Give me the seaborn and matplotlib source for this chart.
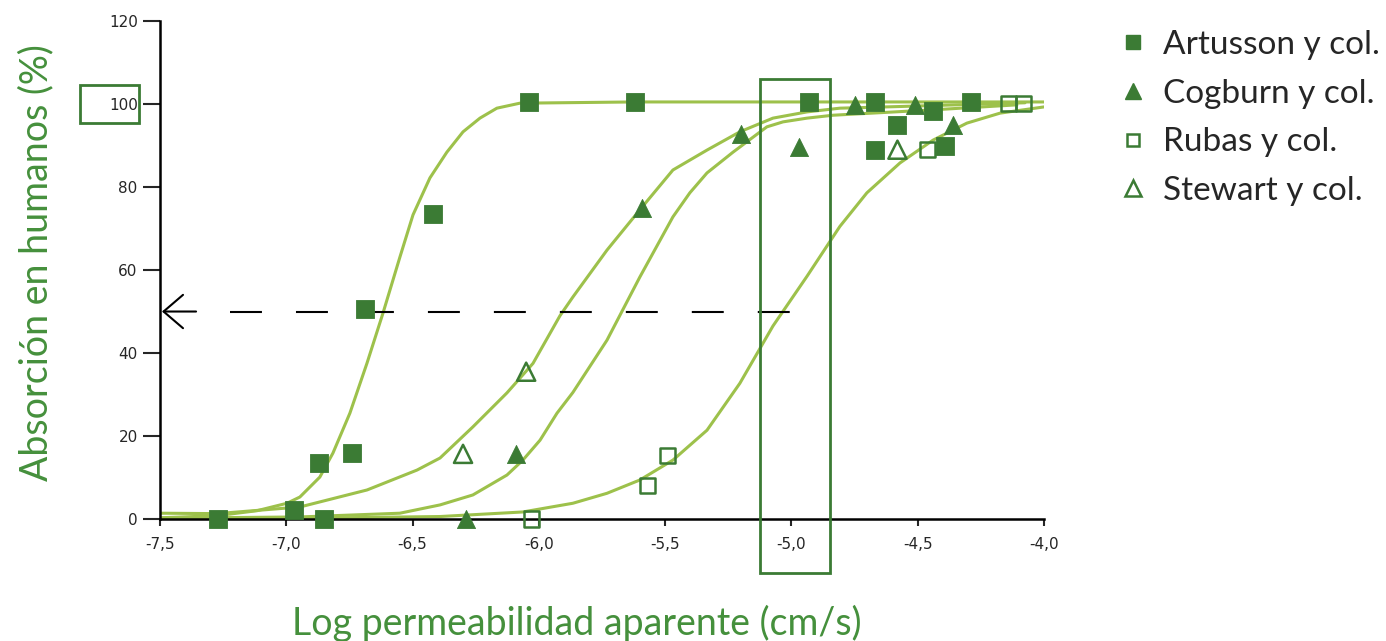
import pandas as pd
import matplotlib

matplotlib.use("Agg")
import matplotlib.pyplot as plt
from matplotlib.patches import Rectangle
from matplotlib.lines import Line2D
import seaborn as sns

# ---------------------------------------------------------------
# Datos
# ---------------------------------------------------------------
artusson_x = [-7.27, -6.97, -6.87, -6.85, -6.74, -6.69, -6.42, -6.04, -5.62,
              -4.93, -4.67, -4.67, -4.58, -4.44, -4.39, -4.29]
artusson_y = [0.0, 2.2, 13.5, 0.0, 15.9, 50.6, 73.5, 100.5, 100.5,
              100.5, 100.5, 89.0, 95.0, 98.3, 90.0, 100.5]

cogburn_x = [-6.29, -6.09, -5.59, -5.20, -4.97, -4.75, -4.51, -4.36]
cogburn_y = [0.0, 15.7, 75.0, 92.8, 89.6, 99.8, 99.8, 95.0]

rubas_x = [-6.03, -5.57, -5.49, -4.46, -4.14, -4.08]
rubas_y = [0.0, 8.0, 15.4, 89.0, 100.2, 100.2]

stewart_x = [-6.30, -6.05, -4.58]
stewart_y = [15.7, 35.5, 89.0]

# curvas sigmoides (puntos leídos a lo largo de cada línea)
curve1_x = [-7.500, -7.274, -7.116, -6.997, -6.946, -6.867, -6.815, -6.748,
            -6.680, -6.617, -6.550, -6.498, -6.431, -6.364, -6.300, -6.233,
            -6.166, -6.075, -5.623, -4.000]
curve1_y = [0.3, 0.8, 2.0, 3.8, 5.3, 10.1, 15.9, 25.5,
            37.6, 49.6, 63.1, 73.3, 82.2, 88.4, 93.3, 96.6,
            99.0, 100.2, 100.5, 100.5]

curve2_x = [-7.500, -7.274, -6.946, -6.680, -6.482, -6.391, -6.261, -6.126,
            -6.023, -5.916, -5.865, -5.730, -5.600, -5.469, -5.334, -5.204,
            -5.073, -4.938, -4.808, -4.570, -4.075]
curve2_y = [1.4, 1.3, 2.9, 7.0, 11.8, 14.7, 22.2, 30.4,
            37.5, 49.0, 53.5, 64.8, 74.5, 84.1, 88.9, 93.3,
            96.6, 98.1, 99.0, 99.4, 100.3]

curve3_x = [-7.500, -6.946, -6.550, -6.391, -6.261, -6.126, -6.063, -5.995,
            -5.928, -5.865, -5.730, -5.600, -5.469, -5.402, -5.334, -5.231,
            -5.097, -5.033, -4.938, -4.835, -4.439, -4.107]
curve3_y = [0.2, 0.5, 1.4, 3.4, 5.8, 10.6, 14.2, 19.0,
            25.5, 30.5, 43.1, 58.3, 72.8, 78.6, 83.4, 88.4,
            94.5, 95.7, 96.6, 97.3, 98.6, 99.8]

curve4_x = [-7.500, -6.918, -6.391, -6.063, -5.865, -5.730, -5.600, -5.469,
            -5.334, -5.204, -5.073, -4.938, -4.808, -4.701, -4.570, -4.439,
            -4.305, -4.174, -4.000]
curve4_y = [0.0, 0.2, 0.6, 1.7, 3.8, 6.2, 9.4, 14.2,
            21.4, 32.7, 46.5, 58.5, 70.5, 78.6, 85.8, 91.3,
            95.4, 97.8, 99.3]

series_names = ["Artusson y col.", "Cogburn y col.", "Rubas y col.", "Stewart y col."]
x_ticks = [-7.5, -7.0, -6.5, -6.0, -5.5, -5.0, -4.5, -4.0]
y_ticks = [0, 20, 40, 60, 80, 100, 120]

# línea de referencia al 50 %
ref_y = 50
ref_x_start = -7.223
ref_x_end = -4.99

# zona resaltada alrededor de -5,0
band_x = (-5.125, -4.847)
band_y = (-13.0, 106.0)

# ---------------------------------------------------------------
# Estilo
# ---------------------------------------------------------------
GREEN = "#3b7b34"
LIGHT = "#9dc14b"
LABEL_GREEN = "#45903c"
TEXT_FONT = ["Lato", "DejaVu Sans"]

sns.set_style("white")
plt.rcParams["font.family"] = ["DejaVu Sans"]
plt.rcParams["lines.scale_dashes"] = False

fig = plt.figure(figsize=(13.86, 6.41), dpi=100)
ax = fig.add_axes([0.1154, 0.1903, 0.6378, 0.7769])

points = pd.concat([
    pd.DataFrame({"x": artusson_x, "y": artusson_y, "serie": series_names[0]}),
    pd.DataFrame({"x": cogburn_x, "y": cogburn_y, "serie": series_names[1]}),
    pd.DataFrame({"x": rubas_x, "y": rubas_y, "serie": series_names[2]}),
    pd.DataFrame({"x": stewart_x, "y": stewart_y, "serie": series_names[3]}),
], ignore_index=True)

curves = pd.concat([
    pd.DataFrame({"x": curve1_x, "y": curve1_y, "curva": "c1"}),
    pd.DataFrame({"x": curve2_x, "y": curve2_y, "curva": "c2"}),
    pd.DataFrame({"x": curve3_x, "y": curve3_y, "curva": "c3"}),
    pd.DataFrame({"x": curve4_x, "y": curve4_y, "curva": "c4"}),
], ignore_index=True)

sns.lineplot(data=curves, x="x", y="y", units="curva", estimator=None,
             color=LIGHT, linewidth=2.2, ax=ax, legend=False, sort=False)
for line in ax.lines:
    line.set_solid_joinstyle("round")

styles = {
    series_names[0]: dict(marker="s", fc=GREEN, size=150),
    series_names[1]: dict(marker="^", fc=GREEN, size=170),
    series_names[2]: dict(marker="s", fc="none", size=120),
    series_names[3]: dict(marker="^", fc="none", size=170),
}
for name in series_names:
    st = styles[name]
    sub = points[points["serie"] == name]
    sns.scatterplot(data=sub, x="x", y="y", marker=st["marker"], s=st["size"],
                    facecolor=st["fc"], edgecolor=GREEN,
                    linewidth=0.6 if st["fc"] != "none" else 1.8,
                    ax=ax, zorder=4, clip_on=False)

# línea discontinua a 50 % con flecha
ax.hlines(ref_y, ref_x_start, ref_x_end, colors="black", linewidth=1.5,
          linestyles=[(0, (23, 24.5))], zorder=3)
ax.annotate("", xy=(-7.492, ref_y), xytext=(-7.357, ref_y),
            arrowprops=dict(arrowstyle="->,head_length=0.7,head_width=0.6",
                            color="black", lw=1.5, mutation_scale=20,
                            shrinkA=0, shrinkB=0))

# recuadro verde sobre la zona de -5,0
ax.add_patch(Rectangle((band_x[0], band_y[0]), band_x[1] - band_x[0],
                       band_y[1] - band_y[0], fill=False, edgecolor=GREEN,
                       linewidth=2, clip_on=False, zorder=5))

# recuadro sobre la etiqueta 100
fig.add_artist(Rectangle((80 / 1386, 1 - 123 / 641), 59 / 1386, 38 / 641,
                         transform=fig.transFigure, fill=False,
                         edgecolor=GREEN, linewidth=2))

# ejes
ax.set_xlim(-7.5, -4.0)
ax.set_ylim(0, 120)
ax.set_xticks(x_ticks)
ax.set_xticklabels([f"{v:.1f}".replace(".", ",") for v in x_ticks])
ax.set_yticks(y_ticks)
ax.set_yticklabels([str(v) for v in y_ticks])
ax.tick_params(axis="y", direction="out", length=12, width=1.5, pad=4,
               labelsize=11, left=True)
ax.tick_params(axis="x", direction="out", length=5, width=1.5, pad=8,
               labelsize=11, bottom=True)
for side in ["top", "right"]:
    ax.spines[side].set_visible(False)
for side in ["left", "bottom"]:
    ax.spines[side].set_color("black")
    ax.spines[side].set_linewidth(1.8)

ax.set_xlabel("Log permeabilidad aparente (cm/s)", fontsize=27,
              color=LABEL_GREEN, family=TEXT_FONT)
ax.set_ylabel("Absorción en humanos (%)", fontsize=27,
              color=LABEL_GREEN, family=TEXT_FONT)
ax.xaxis.set_label_coords(0.472, -0.172)
ax.yaxis.set_label_coords(-0.12, 0.515)

# leyenda
handles = [
    Line2D([], [], linestyle="none", marker="s", markersize=10,
           markerfacecolor=GREEN, markeredgecolor=GREEN),
    Line2D([], [], linestyle="none", marker="^", markersize=11,
           markerfacecolor=GREEN, markeredgecolor=GREEN),
    Line2D([], [], linestyle="none", marker="s", markersize=9,
           markerfacecolor="none", markeredgecolor=GREEN, markeredgewidth=1.8),
    Line2D([], [], linestyle="none", marker="^", markersize=12,
           markerfacecolor="none", markeredgecolor=GREEN, markeredgewidth=1.8),
]
fig.legend(handles, series_names, loc="upper left",
           bbox_to_anchor=(1088 / 1386, 1.0), frameon=False,
           prop={"family": TEXT_FONT, "size": 24},
           handlelength=0.9, handletextpad=0.45, labelspacing=0.56)

fig.savefig("out.png", dpi=100)
